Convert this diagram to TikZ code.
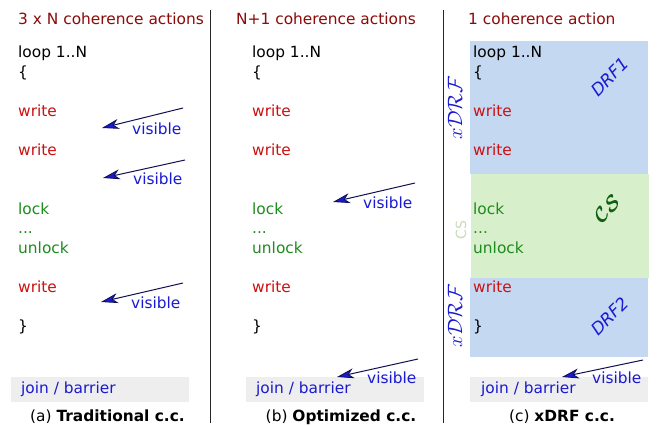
\documentclass[tikz,border=0pt]{standalone}
\usepackage{amsmath}
\usepackage{fontspec}
\setmainfont{DejaVu Sans}
\usetikzlibrary{arrows.meta,positioning}
\definecolor{titlered}{HTML}{8B0A0A}
\definecolor{wred}{HTML}{CC1111}
\definecolor{lgreen}{HTML}{1E8C1E}
\definecolor{visblue}{HTML}{1A1AD2}
\definecolor{navy}{HTML}{101050}
\definecolor{drfblue}{HTML}{C5D8F2}
\definecolor{csgreen}{HTML}{D8EFCB}
\definecolor{csdark}{HTML}{0F5F0F}
\definecolor{joingray}{HTML}{EEEEEE}

\begin{document}
\begin{tikzpicture}[x=1pt,y=-1pt,
    code/.style={font=\fontsize{15.4}{18}\selectfont,inner sep=0pt,anchor=base west},
    vis/.style={code,text=visblue},
    visarrow/.style={draw=navy,line width=1pt,
      -{Stealth[length=17pt,width=10pt,inset=5pt,fill=visblue,line width=0.8pt]}},
    joinbox/.style={fill=joingray,inner sep=0pt,minimum width=178pt,minimum height=25pt},
    region/.style={inner sep=0pt,anchor=north west,minimum width=178pt},
    tag/.style={font=\fontsize{17}{20}\selectfont\itshape,text=visblue,inner sep=0pt}]
  \useasboundingbox (0,0) rectangle (660,425);
  \fill[white] (0,0) rectangle (660,425);

  % shaded regions of panel (c)
  \node[region,fill=drfblue,minimum height=133pt] (drf1) at (470,41) {};
  \node[region,fill=csgreen,minimum height=104pt] (cs) at (471,174) {};
  \node[region,fill=drfblue,minimum height=79pt] (drf2) at (470,278) {};

  % panel separators
  \draw[line width=0.9pt,black!85] (210,10) -- (210,423);
  \draw[line width=0.9pt,black!85] (443,10) -- (443,423);

  % titles
  \node[code,text=titlered] (title-a) at (18,25) {3 x N coherence actions};
  \node[code,text=titlered] (title-b) at (236,25) {N+1 coherence actions};
  \node[code,text=titlered] (title-c) at (468,25) {1 coherence action};

  % the loop body, once per panel
  \foreach \px/\p in {18/a,252/b,473/c}{
    \node[code] (loop-\p) at (\px,58) {loop 1..N};
    \node[code] (open-\p) at (\px,77.5) {\{};
    \node[code,text=wred] (wa-\p) at (\px,116.5) {write};
    \node[code,text=wred] (wb-\p) at (\px,155.5) {write};
    \node[code,text=lgreen] (lock-\p) at (\px,214) {lock};
    \node[code,text=lgreen] (dots-\p) at (\px,233.5) {...};
    \node[code,text=lgreen] (unlock-\p) at (\px,253) {unlock};
    \node[code,text=wred] (wc-\p) at (\px,292) {write};
    \node[code] (close-\p) at (\px,331) {\}};
  }

  % join / barrier
  \node[joinbox] (join-a) at (100,389.5) {};
  \node[joinbox] (join-b) at (335,389.5) {};
  \node[joinbox] (join-c) at (559,389.5) {};
  \node[code,text=visblue] (jt-a) at (21,393) {join / barrier};
  \node[code,text=visblue] (jt-b) at (256,393) {join / barrier};
  \node[code,text=visblue] (jt-c) at (481,393) {join / barrier};

  % visibility points
  \foreach \n/\tx/\ty/\hx/\hy in {a1/183/108/102/128, a2/185/160/103/178,
      a3/183/283/101/302, b1/415/183/333/202, b2/418/359/337/377,
      c1/643/360/562/377}{
    \coordinate (tail-\n) at (\tx,\ty);
    \coordinate (tip-\n) at (\hx,\hy);
    \node[vis] (vis-\n) at ([xshift=30pt,yshift=-6pt]tip-\n) {visible};
    \draw[visarrow] (tail-\n) -- (tip-\n);
  }

  % region labels
  \node[tag,rotate=45] (l-drf1) at (610,77) {DRF1};
  \node[tag,rotate=45] (l-drf2) at (610,316) {DRF2};
  \node[inner sep=0pt,rotate=45,text=csdark,font=\fontsize{22}{24}\selectfont] (l-cs) at (607,209) {$\boldsymbol{\mathcal{CS}}$};
  \node[inner sep=0pt,rotate=90,text=visblue,font=\fontsize{20}{22}\selectfont] (x-drf1) at (455,108) {$x\mathcal{DRF}$};
  \node[inner sep=0pt,rotate=90,text=visblue,font=\fontsize{20}{22}\selectfont] (x-drf2) at (455,316) {$x\mathcal{DRF}$};
  \node[inner sep=0pt,rotate=90,text=csgreen!92!black,font=\fontsize{14}{16}\selectfont] (x-cs) at (461,230) {CS};

  % captions
  \node[code,anchor=base] (cap-a) at (107.5,421) {(a) \textbf{Traditional c.c.}};
  \node[code,anchor=base] (cap-b) at (341,421) {(b) \textbf{Optimized c.c.}};
  \node[code,anchor=base] (cap-c) at (562,421) {(c) \textbf{xDRF c.c.}};
\end{tikzpicture}
\end{document}
